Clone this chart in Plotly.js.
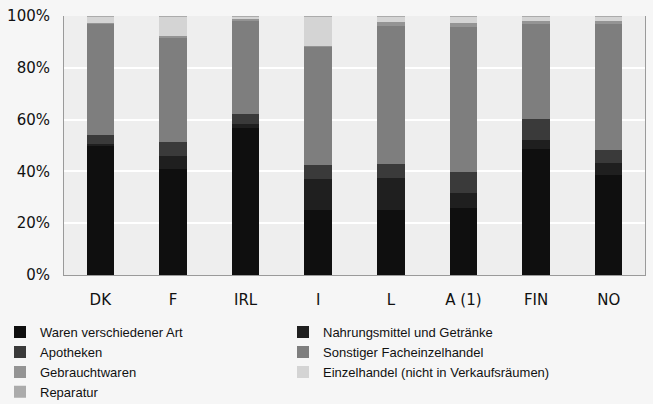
<!DOCTYPE html>
<html>
<head>
<meta charset="utf-8">
<script src="https://cdn.plot.ly/plotly-3.0.1.min.js"></script>
<style>html,body{margin:0;padding:0;background:#f6f6f6;}#chart{width:653px;height:404px;}</style>
</head>
<body>
<div id="chart"></div>
<script>
const categories = ["DK", "F", "IRL", "I", "L", "A (1)", "FIN", "NO"];
const warenVerschiedenerArt = [49.7, 41.0, 56.8, 25.0, 25.2, 25.8, 48.6, 38.7];
const nahrungsmittel       = [0.8, 5.0, 1.5, 12.0, 12.2, 5.8, 3.7, 4.5];
const apotheken            = [3.7, 5.2, 4.0, 5.6, 5.5, 8.0, 8.0, 5.2];
const sonstigerFach        = [42.6, 40.4, 35.7, 45.4, 53.2, 56.0, 36.5, 48.4];
const gebrauchtwaren       = [0.5, 0.6, 1.0, 0.6, 1.5, 1.6, 1.2, 1.4];
const einzelhandelNichtVR  = [2.2, 7.3, 0.5, 11.0, 2.0, 2.4, 1.6, 1.4];
const reparatur            = [0.5, 0.5, 0.5, 0.4, 0.4, 0.4, 0.4, 0.4];
const yTickVals = [0, 20, 40, 60, 80, 100];
const yTickText = ["0%", "20%", "40%", "60%", "80%", "100%"];

const seriesNames = ["Waren verschiedener Art", "Nahrungsmittel und Getränke", "Apotheken",
  "Sonstiger Facheinzelhandel", "Gebrauchtwaren", "Einzelhandel (nicht in Verkaufsräumen)", "Reparatur"];
const seriesValues = [warenVerschiedenerArt, nahrungsmittel, apotheken, sonstigerFach,
  gebrauchtwaren, einzelhandelNichtVR, reparatur];
const colors = ["#0f0f0f", "#1f1f1f", "#3a3a3a", "#7e7e7e", "#949494", "#d4d4d4", "#ababab"];

const traces = seriesNames.map((n, i) => ({
  type: "bar",
  name: n,
  x: categories,
  y: seriesValues[i],
  width: 0.38,
  marker: {color: colors[i], line: {width: 0}},
  hoverinfo: "skip"
}));

const layout = {
  width: 653, height: 404,
  barmode: "stack",
  paper_bgcolor: "#f6f6f6",
  plot_bgcolor: "#eeeeee",
  margin: {l: 64, r: 8, t: 16, b: 129},
  font: {family: "DejaVu Sans", color: "#111"},
  xaxis: {
    type: "category",
    showgrid: false,
    tickfont: {size: 15, family: "DejaVu Sans", color: "#111"},
    ticks: "", ticklabelstandoff: 11,
    showline: true, linecolor: "#9a9a9a", linewidth: 1,
    range: [-0.5, 7.5]
  },
  yaxis: {
    range: [0, 100],
    tickmode: "array",
    tickvals: yTickVals,
    ticktext: yTickText,
    tickfont: {size: 15, family: "DejaVu Sans", color: "#111"},
    gridcolor: "#ffffff", gridwidth: 2,
    showline: true, linecolor: "#9a9a9a", linewidth: 1, mirror: true,
    ticks: "", ticklabelstandoff: 10,
    zeroline: false
  },
  showlegend: true,
  legend: {
    orientation: "h",
    traceorder: "normal",
    xref: "container", yref: "container",
    x: 0, y: 0.215, xanchor: "left", yanchor: "top",
    entrywidth: 238,
    itemwidth: 30,
    bgcolor: "rgba(0,0,0,0)",
    font: {family: "Liberation Sans", size: 13, color: "#111"}
  }
};

Plotly.newPlot("chart", traces, layout, {displayModeBar: false, staticPlot: true});
</script>
</body>
</html>
